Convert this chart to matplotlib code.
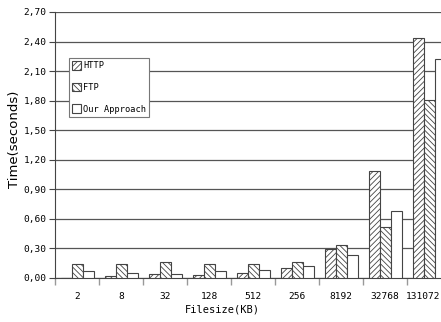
import matplotlib
import numpy as np

matplotlib.use("Agg")
import matplotlib.pyplot as plt
import matplotlib.transforms as mtransforms

# file sizes (KB) and transfer times (seconds)
sizes = ["2", "8", "32", "128", "512", "256", "8192", "32768", "131072"]
http = [0.005, 0.02, 0.037, 0.033, 0.05, 0.098, 0.29, 1.09, 2.44]
ftp = [0.142, 0.14, 0.165, 0.14, 0.14, 0.165, 0.335, 0.515, 1.81]
ours = [0.068, 0.048, 0.037, 0.068, 0.078, 0.118, 0.23, 0.677, 2.22]
yticks = [0.0, 0.3, 0.6, 0.9, 1.2, 1.5, 1.8, 2.1, 2.4, 2.7]

mono = "DejaVu Sans Mono"
plt.rcParams["hatch.color"] = "#555555"
plt.rcParams["hatch.linewidth"] = 0.6

fig = plt.figure(figsize=(4.41, 3.22), dpi=100)
# the plot area runs past the right edge of the picture
ax = fig.add_axes([55 / 441, 1 - 278 / 322, 396 / 441, 266 / 322])

x = np.arange(len(sizes))
w = 0.25
edge = "#444444"
ax.bar(x - w, http, w, color="white", edgecolor=edge, hatch="//////", lw=0.8, label="HTTP", zorder=3)
ax.bar(x, ftp, w, color="white", edgecolor=edge, hatch="\\\\\\\\\\\\", lw=0.8, label="FTP", zorder=3)
ax.bar(x + w, ours, w, color="white", edgecolor=edge, lw=0.8, label="Our Approach", zorder=3)

ax.set_xlim(-0.5, len(sizes) - 0.5)
ax.set_ylim(0, 2.7)
ax.set_yticks(yticks)
ax.set_yticklabels([f"{v:.2f}".replace(".", ",") for v in yticks], family=mono, fontsize=6.8)
ax.set_xticks(x)
ax.set_xticklabels(sizes, family=mono, fontsize=6.8)
ax.tick_params(axis="x", length=0, pad=10)
ax.set_xticks(np.arange(len(sizes) + 1) - 0.5, minor=True)
ax.tick_params(axis="x", which="minor", length=5, color="#999999", width=1)
ax.tick_params(axis="y", length=4, color="#444444", width=0.8, pad=2)

# pull the last label in so it stays inside the picture
last = ax.get_xticklabels()[-1]
last.set_transform(last.get_transform() + mtransforms.ScaledTranslation(-6 / 100, 0, fig.dpi_scale_trans))

ax.grid(axis="y", color="#555555", lw=0.9, zorder=0)
for s in ["top", "right"]:
    ax.spines[s].set_visible(False)
ax.spines["left"].set_color("#444444")
ax.spines["bottom"].set_color("#444444")

ax.set_xlabel("Filesize(KB)", family=mono, fontsize=7.5)
ax.xaxis.set_label_coords((222 - 55) / 396, -(305 - 278) / 266)
ax.set_ylabel("Time(seconds)", fontsize=9.5)
ax.yaxis.set_label_coords((21 - 55) / 396, 1 - (139 - 12) / 266)

leg = ax.legend(loc="upper left", bbox_to_anchor=((69 - 55) / 396, 1 - (58 - 12) / 266),
                prop={"family": mono, "size": 6.2},
                fancybox=False, framealpha=1, edgecolor="#777777",
                handlelength=1.05, handleheight=1.15, handletextpad=0.25,
                labelspacing=1.45, borderpad=0.35, borderaxespad=0)
leg.get_frame().set_linewidth(0.8)

fig.savefig("out.png", dpi=100)
